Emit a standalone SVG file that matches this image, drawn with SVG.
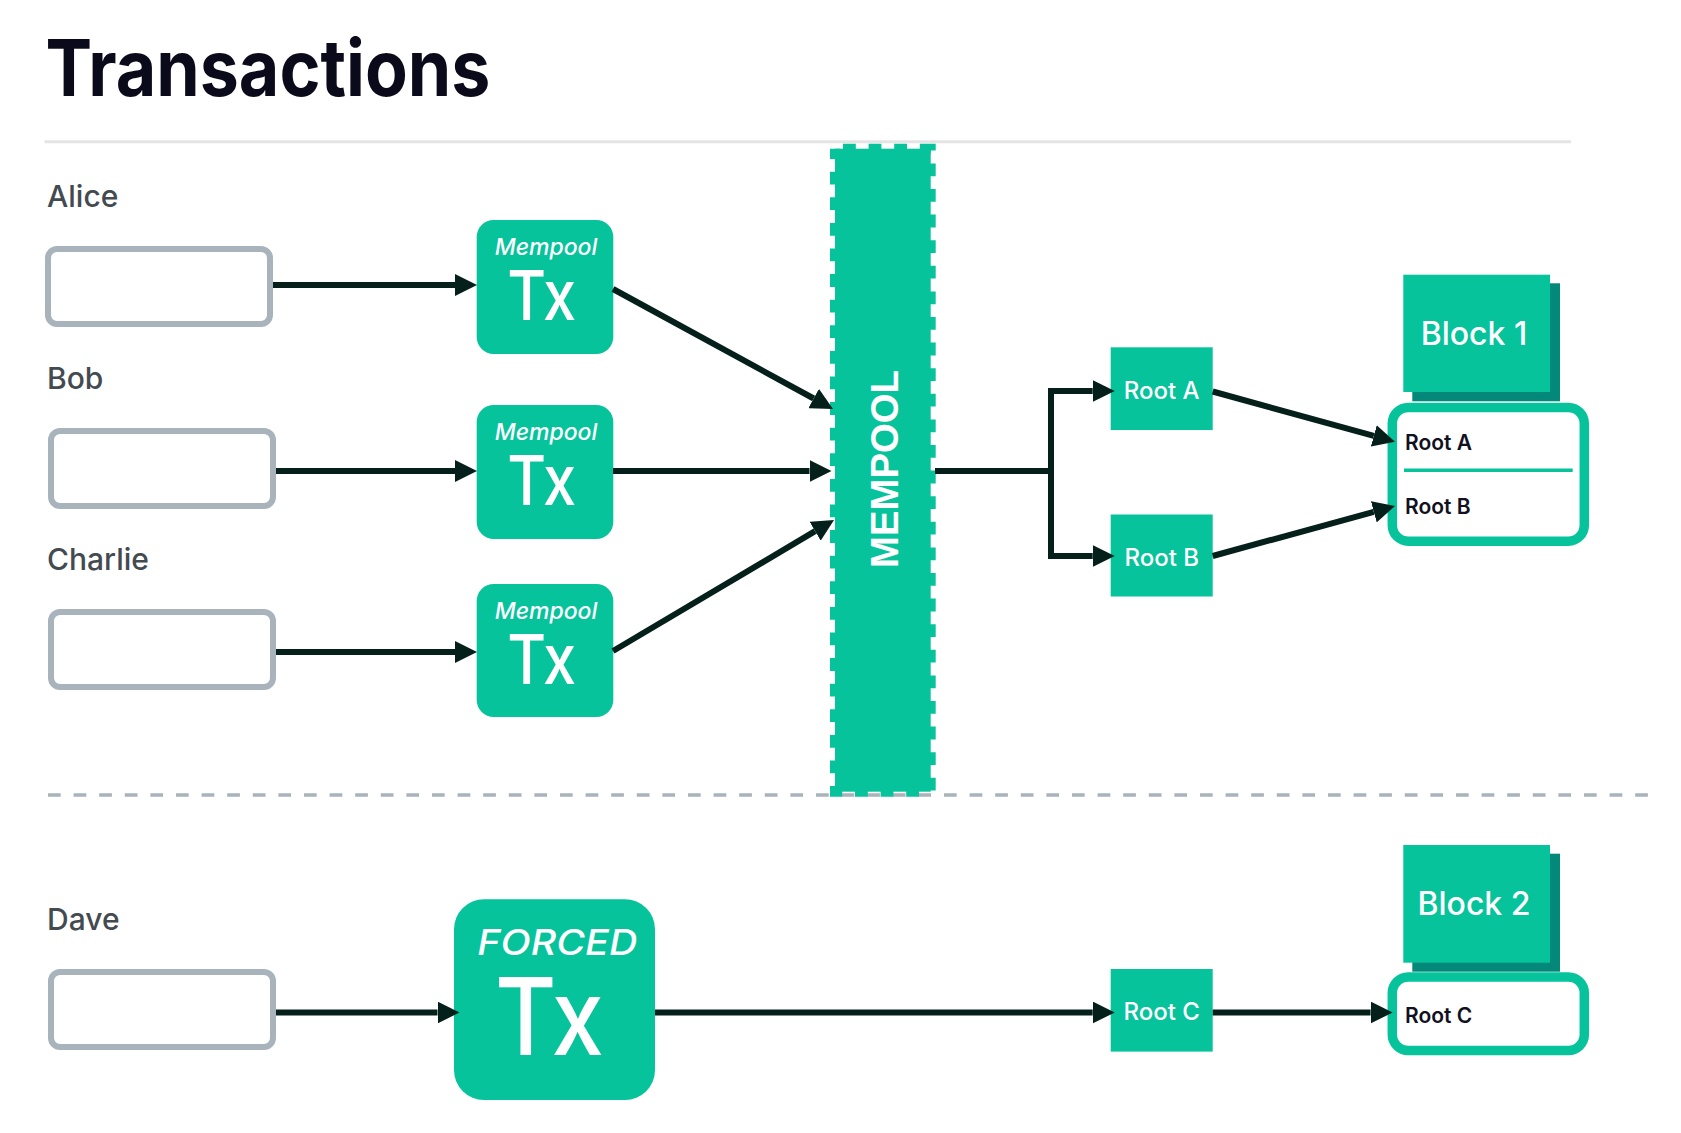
<svg xmlns="http://www.w3.org/2000/svg" width="1681" height="1133" viewBox="0 0 1681 1133">
<defs>
<style>
.bg{fill:#ffffff}
.title{font-family:Inter,"Liberation Sans",sans-serif;font-weight:700;font-size:78px;fill:#0b0a1a}
.who{font-family:Inter,"Liberation Sans",sans-serif;font-weight:500;font-size:30px;fill:#434a50}
.inbox{fill:#ffffff;stroke:#a8b3bb;stroke-width:6}
.green{fill:#06c39b}
.shadow{fill:#03887a}
.wtxt{font-family:Inter,"Liberation Sans",sans-serif;fill:#ffffff;text-anchor:middle}
.mp{font-style:italic;font-weight:500;font-size:23px}
.tx{font-weight:500;font-size:69px}
.root{font-weight:500;font-size:24px}
.blk{font-weight:500;font-size:32px}
.btxt{font-family:Inter,"Liberation Sans",sans-serif;font-weight:600;font-size:21px;fill:#111122}
.cbox{fill:#ffffff;stroke:#06c39b;stroke-width:9.5}
.conn{fill:none;stroke:#05201b;stroke-width:6}
</style>
<marker id="ah" viewBox="0 0 22 22" refX="0" refY="11" markerWidth="22" markerHeight="22" markerUnits="userSpaceOnUse" orient="auto">
<path d="M0,0 L22,11 L0,22 Z" fill="#05201b"/>
</marker>
</defs>
<rect class="bg" x="0" y="0" width="1681" height="1133"/>

<g id="title">
<text class="title" x="45.5" y="96.4" textLength="445" lengthAdjust="spacingAndGlyphs">Transactions</text>
<line x1="44.5" y1="141.7" x2="1571" y2="141.7" stroke="#e4e4e4" stroke-width="3"/>
</g>

<g id="separator">
<line x1="48" y1="795" x2="1657" y2="795" stroke="#a8b3bb" stroke-width="3.4" stroke-dasharray="12.7 12.9"/>
</g>

<g id="alice">
<text class="who" x="47" y="207">Alice</text>
<rect class="inbox" x="48" y="249" width="222" height="75" rx="9"/>
</g>
<g id="bob">
<text class="who" x="47" y="389">Bob</text>
<rect class="inbox" x="51" y="431" width="222" height="75" rx="9"/>
</g>
<g id="charlie">
<text class="who" x="47" y="570">Charlie</text>
<rect class="inbox" x="51" y="612" width="222" height="75" rx="9"/>
</g>
<g id="dave">
<text class="who" x="47" y="930">Dave</text>
<rect class="inbox" x="51" y="972" width="222" height="75" rx="9"/>
</g>

<g id="tx-alice">
<rect class="green" x="476.7" y="220" width="136.6" height="134" rx="17"/>
<text class="wtxt mp" x="546" y="255">Mempool</text>
<text class="wtxt tx" x="541.7" y="320" textLength="69" lengthAdjust="spacingAndGlyphs">Tx</text>
</g>
<g id="tx-bob">
<rect class="green" x="476.7" y="405" width="136.6" height="134" rx="17"/>
<text class="wtxt mp" x="546" y="440">Mempool</text>
<text class="wtxt tx" x="541.7" y="505" textLength="69" lengthAdjust="spacingAndGlyphs">Tx</text>
</g>
<g id="tx-charlie">
<rect class="green" x="476.7" y="584" width="136.6" height="133" rx="17"/>
<text class="wtxt mp" x="546" y="619">Mempool</text>
<text class="wtxt tx" x="541.7" y="684" textLength="69" lengthAdjust="spacingAndGlyphs">Tx</text>
</g>
<g id="tx-forced">
<rect class="green" x="454" y="899.3" width="201" height="200.7" rx="30"/>
<text class="wtxt" x="557.3" y="955" font-style="italic" font-weight="500" font-size="35.5" textLength="160" lengthAdjust="spacingAndGlyphs">FORCED</text>
<text class="wtxt" x="549.5" y="1055" font-weight="500" font-size="107" textLength="109" lengthAdjust="spacingAndGlyphs">Tx</text>
</g>

<g id="mempool">
<rect x="835" y="148.7" width="95.7" height="643" fill="#06c39b" stroke="#06c39b" stroke-width="10" stroke-dasharray="12.8 12.8" stroke-dashoffset="17.6"/>
<text transform="translate(898 469) rotate(-90)" x="0" y="0" font-family="'Liberation Sans',Arial,sans-serif" font-weight="700" font-size="38.5" fill="#ffffff" text-anchor="middle" textLength="198" lengthAdjust="spacingAndGlyphs">MEMPOOL</text>
</g>

<g id="root-a">
<rect class="green" x="1110.7" y="347.3" width="102" height="82.7"/>
<text class="wtxt root" x="1161.7" y="399">Root A</text>
</g>
<g id="root-b">
<rect class="green" x="1110.7" y="514.5" width="102" height="82"/>
<text class="wtxt root" x="1161.7" y="565.5">Root B</text>
</g>
<g id="root-c">
<rect class="green" x="1110.7" y="969" width="102" height="82.6"/>
<text class="wtxt root" x="1161.7" y="1020">Root C</text>
</g>

<g id="block-1">
<rect class="shadow" x="1412.3" y="283.3" width="147.7" height="118"/>
<rect class="green" x="1403.3" y="274.7" width="146.7" height="117.3"/>
<text class="wtxt blk" x="1474" y="345">Block 1</text>
<rect class="cbox" x="1392.3" y="407.5" width="192" height="133.7" rx="16"/>
<text class="btxt" x="1405" y="450">Root A</text>
<line x1="1404" y1="470.2" x2="1572.7" y2="470.2" stroke="#06c39b" stroke-width="3.5"/>
<text class="btxt" x="1405" y="514">Root B</text>
</g>
<g id="block-2">
<rect class="shadow" x="1412.3" y="853.7" width="147.7" height="118"/>
<rect class="green" x="1403.3" y="845" width="146.7" height="117.7"/>
<text class="wtxt blk" x="1474" y="915.3">Block 2</text>
<rect class="cbox" x="1392.3" y="977" width="192" height="73.5" rx="16"/>
<text class="btxt" x="1405" y="1023">Root C</text>
</g>

<g id="connectors">
<path class="conn" d="M273 285 H455" marker-end="url(#ah)"/>
<path class="conn" d="M276 471 H455" marker-end="url(#ah)"/>
<path class="conn" d="M276 652 H455" marker-end="url(#ah)"/>
<path class="conn" d="M276 1012.5 H437.5" marker-end="url(#ah)"/>
<path class="conn" d="M613 289 L813.7 398.5" marker-end="url(#ah)"/>
<path class="conn" d="M613 471 H809.5" marker-end="url(#ah)"/>
<path class="conn" d="M613 651 L815.1 531.2" marker-end="url(#ah)"/>
<path class="conn" d="M935 471 H1051 V391 H1092.7" marker-end="url(#ah)"/>
<path class="conn" d="M1051 471 V556 H1092.7" marker-end="url(#ah)"/>
<path class="conn" d="M1212.7 391.5 L1373.8 435.9" marker-end="url(#ah)"/>
<path class="conn" d="M1212.7 556 L1373.8 511.8" marker-end="url(#ah)"/>
<path class="conn" d="M655 1012.5 H1092.7" marker-end="url(#ah)"/>
<path class="conn" d="M1212.7 1012.5 H1370.6" marker-end="url(#ah)"/>
</g>
</svg>
